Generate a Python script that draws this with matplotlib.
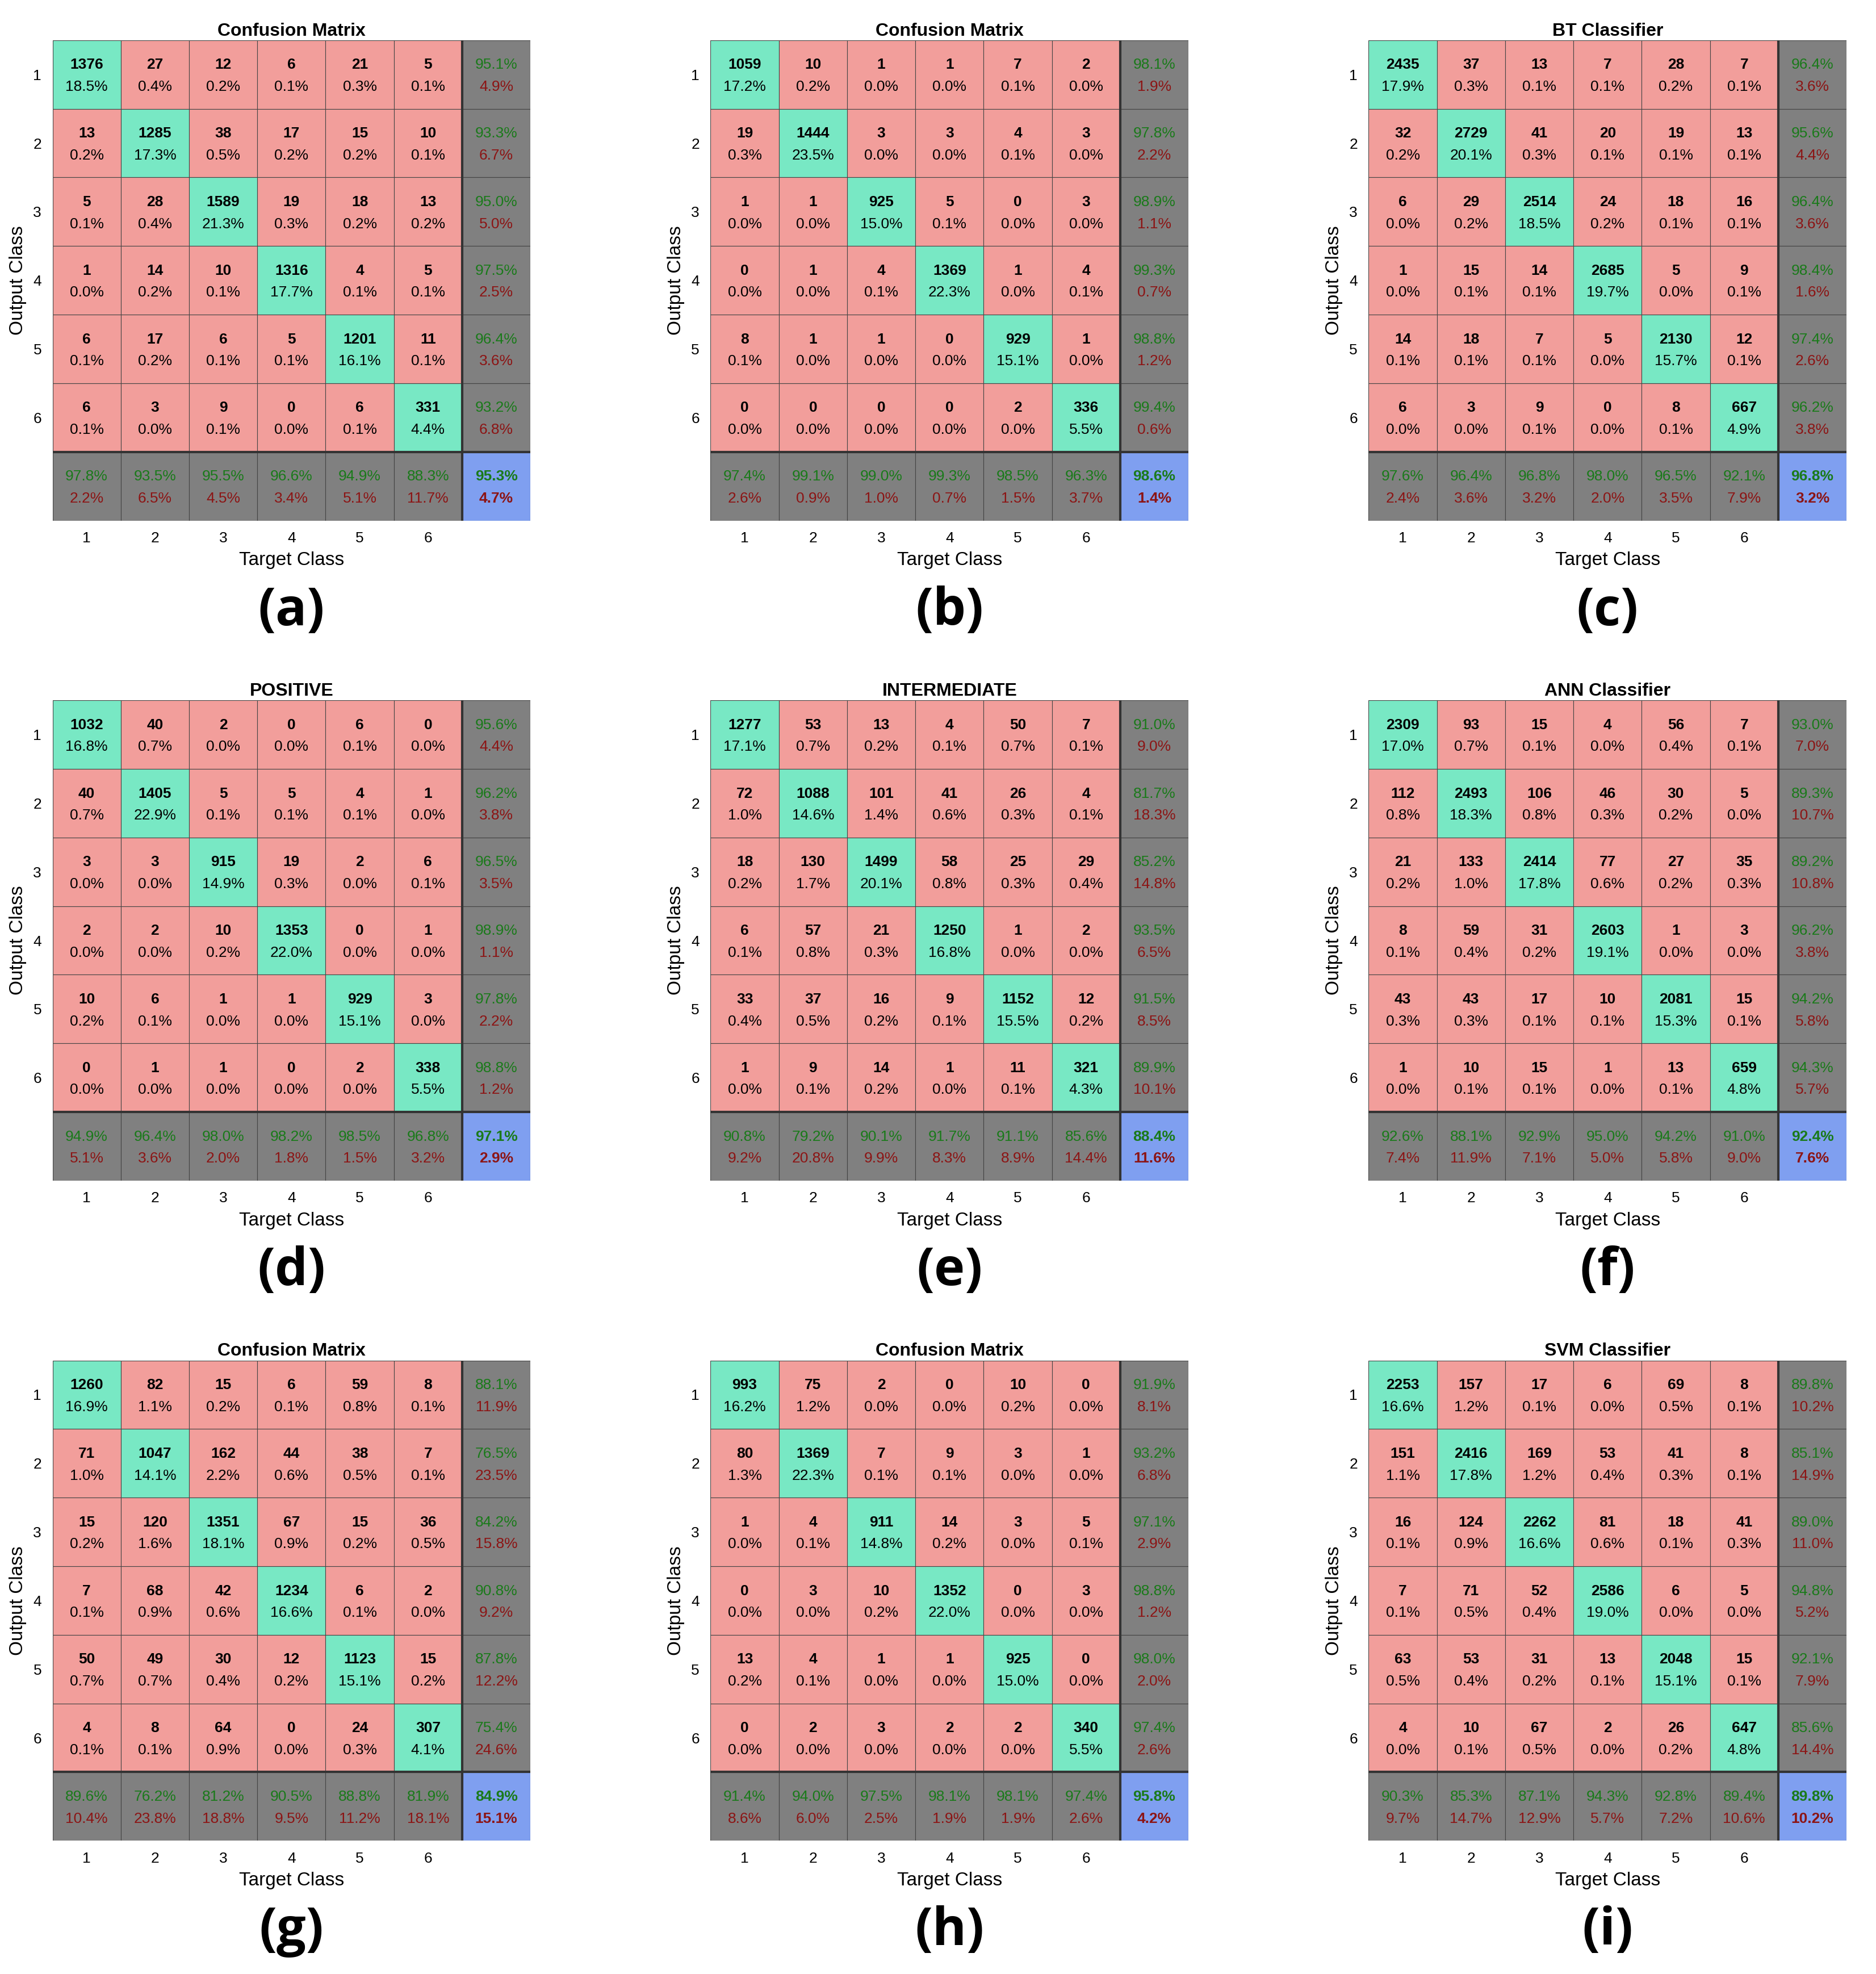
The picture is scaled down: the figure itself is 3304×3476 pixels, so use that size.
import numpy as np
import matplotlib.pyplot as plt
from matplotlib.patches import Rectangle

titles = ["Confusion Matrix", "Confusion Matrix", "BT Classifier",
          "POSITIVE", "INTERMEDIATE", "ANN Classifier",
          "Confusion Matrix", "Confusion Matrix", "SVM Classifier"]
letters = ["(a)", "(b)", "(c)", "(d)", "(e)", "(f)", "(g)", "(h)", "(i)"]

mat_a = [[1376, 27, 12, 6, 21, 5], [13, 1285, 38, 17, 15, 10], [5, 28, 1589, 19, 18, 13],
         [1, 14, 10, 1316, 4, 5], [6, 17, 6, 5, 1201, 11], [6, 3, 9, 0, 6, 331]]
mat_b = [[1059, 10, 1, 1, 7, 2], [19, 1444, 3, 3, 4, 3], [1, 1, 925, 5, 0, 3],
         [0, 1, 4, 1369, 1, 4], [8, 1, 1, 0, 929, 1], [0, 0, 0, 0, 2, 336]]
mat_c = [[2435, 37, 13, 7, 28, 7], [32, 2729, 41, 20, 19, 13], [6, 29, 2514, 24, 18, 16],
         [1, 15, 14, 2685, 5, 9], [14, 18, 7, 5, 2130, 12], [6, 3, 9, 0, 8, 667]]
mat_d = [[1032, 40, 2, 0, 6, 0], [40, 1405, 5, 5, 4, 1], [3, 3, 915, 19, 2, 6],
         [2, 2, 10, 1353, 0, 1], [10, 6, 1, 1, 929, 3], [0, 1, 1, 0, 2, 338]]
mat_e = [[1277, 53, 13, 4, 50, 7], [72, 1088, 101, 41, 26, 4], [18, 130, 1499, 58, 25, 29],
         [6, 57, 21, 1250, 1, 2], [33, 37, 16, 9, 1152, 12], [1, 9, 14, 1, 11, 321]]
mat_f = [[2309, 93, 15, 4, 56, 7], [112, 2493, 106, 46, 30, 5], [21, 133, 2414, 77, 27, 35],
         [8, 59, 31, 2603, 1, 3], [43, 43, 17, 10, 2081, 15], [1, 10, 15, 1, 13, 659]]
mat_g = [[1260, 82, 15, 6, 59, 8], [71, 1047, 162, 44, 38, 7], [15, 120, 1351, 67, 15, 36],
         [7, 68, 42, 1234, 6, 2], [50, 49, 30, 12, 1123, 15], [4, 8, 64, 0, 24, 307]]
mat_h = [[993, 75, 2, 0, 10, 0], [80, 1369, 7, 9, 3, 1], [1, 4, 911, 14, 3, 5],
         [0, 3, 10, 1352, 0, 3], [13, 4, 1, 1, 925, 0], [0, 2, 3, 2, 2, 340]]
mat_i = [[2253, 157, 17, 6, 69, 8], [151, 2416, 169, 53, 41, 8], [16, 124, 2262, 81, 18, 41],
         [7, 71, 52, 2586, 6, 5], [63, 53, 31, 13, 2048, 15], [4, 10, 67, 2, 26, 647]]
matrices = [mat_a, mat_b, mat_c, mat_d, mat_e, mat_f, mat_g, mat_h, mat_i]

GREEN_BG = "#78e8c4"
RED_BG = "#f29e9b"
GREY_BG = "#808080"
BLUE_BG = "#7f9ff0"
GTXT = "#1a7a1a"
RTXT = "#8c1414"
FONT = "Liberation Sans"

W, H = 3305, 3476
fig = plt.figure(figsize=(W / 100, H / 100), dpi=100)
sx = W / 1500
sy = H / 1570

lefts = [42, 568, 1094]
tops = [32, 557, 1082]
size = 382


def pct(v):
    return f"{v:.1f}%"


for k, m in enumerate(matrices):
    m = np.array(m, dtype=float)
    total = m.sum()
    r, c = divmod(k, 3)
    ax = fig.add_axes([lefts[c] * sx / W, 1 - (tops[r] + size) * sy / H,
                       size * sx / W, size * sy / H])
    ax.set_xlim(0, 7)
    ax.set_ylim(7, 0)
    for i in range(6):
        for j in range(6):
            col = GREEN_BG if i == j else RED_BG
            ax.add_patch(Rectangle((j, i), 1, 1, fc=col, ec="#444444", lw=0.8))
            ax.text(j + 0.5, i + 0.36, f"{int(m[i, j])}", ha="center", va="center",
                    fontsize=19, fontweight="bold", family=FONT)
            ax.text(j + 0.5, i + 0.68, pct(100 * m[i, j] / total), ha="center",
                    va="center", fontsize=19, family=FONT)
    # right column: precision per output class
    for i in range(6):
        acc = 100 * m[i, i] / m[i].sum()
        ax.add_patch(Rectangle((6, i), 1, 1, fc=GREY_BG, ec="#444444", lw=0.8))
        ax.text(6.5, i + 0.36, pct(acc), ha="center", va="center", fontsize=19, color=GTXT, family=FONT)
        ax.text(6.5, i + 0.68, pct(100 - acc), ha="center", va="center", fontsize=19, color=RTXT, family=FONT)
    # bottom row: recall per target class
    for j in range(6):
        acc = 100 * m[j, j] / m[:, j].sum()
        ax.add_patch(Rectangle((j, 6), 1, 1, fc=GREY_BG, ec="#444444", lw=0.8))
        ax.text(j + 0.5, 6.36, pct(acc), ha="center", va="center", fontsize=19, color=GTXT, family=FONT)
        ax.text(j + 0.5, 6.68, pct(100 - acc), ha="center", va="center", fontsize=19, color=RTXT, family=FONT)
    acc = 100 * np.trace(m) / total
    ax.add_patch(Rectangle((6, 6), 1, 1, fc=BLUE_BG, ec="#444444", lw=0.8))
    ax.text(6.5, 6.36, pct(acc), ha="center", va="center", fontsize=19, color=GTXT,
            fontweight="bold", family=FONT)
    ax.text(6.5, 6.68, pct(100 - acc), ha="center", va="center", fontsize=19, color=RTXT,
            fontweight="bold", family=FONT)
    ax.plot([0, 7], [6, 6], color="#333333", lw=3)
    ax.plot([6, 6], [0, 7], color="#333333", lw=3)
    for s in ax.spines.values():
        s.set_visible(False)
    ax.set_xticks(np.arange(6) + 0.5, [str(n) for n in range(1, 7)])
    ax.set_yticks(np.arange(6) + 0.5, [str(n) for n in range(1, 7)])
    ax.tick_params(length=0, labelsize=19, pad=14)
    for t in ax.get_xticklabels() + ax.get_yticklabels():
        t.set_family(FONT)
    ax.set_xlabel("Target Class", fontsize=24, family=FONT, labelpad=8)
    ax.set_ylabel("Output Class", fontsize=24, family=FONT, labelpad=8)
    ax.set_title(titles[k], fontsize=23, fontweight="bold", family=FONT, pad=6)
    ax.text(0.5, -0.135, letters[k], transform=ax.transAxes, ha="center", va="top",
            fontsize=66, fontweight="bold", family="Open Sans")

fig.savefig("out.png", dpi=100, facecolor="white")
